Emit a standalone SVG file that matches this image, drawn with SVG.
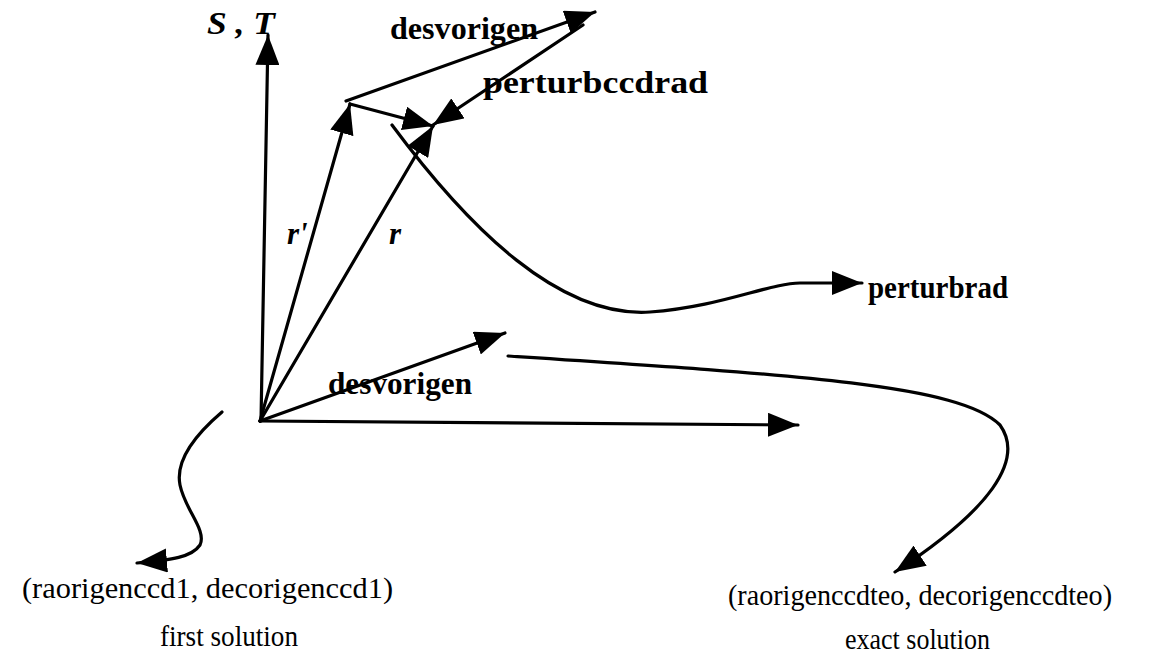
<svg xmlns="http://www.w3.org/2000/svg" width="1167" height="659" viewBox="0 0 1167 659">
  <style>
    .ln { fill: none; stroke: #000; stroke-width: 3.2; stroke-linecap: round; }
    .arr { marker-end: url(#head); }
    .lbl { font-family: "Liberation Serif", serif; font-weight: bold; font-size: 31px; fill: #000; }
    .sym { font-family: "Liberation Serif", serif; font-weight: bold; font-style: italic; font-size: 31px; fill: #000; }
    .note { font-family: "Liberation Serif", serif; font-size: 29px; fill: #000; }
  </style>
  <defs>
    <marker id="head" markerUnits="userSpaceOnUse" markerWidth="32" markerHeight="24" refX="30" refY="12" orient="auto">
      <path d="M0,0 L30,12 L0,24 z" fill="#000"/>
    </marker>
  </defs>
  <rect width="1167" height="659" fill="#fff"/>

  <!-- vectors and connectors -->
  <g id="connectors">
    <path class="ln arr" d="M261,421 L268,35"/>
    <path class="ln arr" d="M260,421 L798,425"/>
    <path class="ln arr" d="M260,421 L350,104"/>
    <path class="ln arr" d="M260,421 L433,126"/>
    <path class="ln arr" d="M260,421 L505,333"/>
    <path class="ln arr" d="M350,104 L433,126"/>
    <path class="ln arr" d="M346,101 L595,12"/>
    <path class="ln arr" d="M583,25 L433,125"/>
    <path class="ln arr" d="M392,125 C470,230 560,318 650,312 C720,307 770,283 800,283 L862,283"/>
    <path class="ln arr" d="M508,356 C800,375 960,385 1000,425 C1025,460 990,510 895,572"/>
    <path class="ln arr" d="M222,412 C195,435 175,460 180,485 C185,510 207,530 200,545 C192,557 172,560 137,563"/>
  </g>

  <g id="axis-label"><text class="sym" x="207" y="34" textLength="68" lengthAdjust="spacingAndGlyphs">S , T</text></g>
  <g id="desvorigen-top"><text class="lbl" x="390" y="39" textLength="148" lengthAdjust="spacingAndGlyphs">desvorigen</text></g>
  <g id="perturbccdrad"><text class="lbl" x="483" y="93" textLength="225" lengthAdjust="spacingAndGlyphs">perturbccdrad</text></g>
  <g id="r-prime"><text class="sym" x="287" y="244">r'</text></g>
  <g id="r"><text class="sym" x="389" y="244">r</text></g>
  <g id="perturbrad"><text class="lbl" x="868" y="298" textLength="140" lengthAdjust="spacingAndGlyphs">perturbrad</text></g>
  <g id="desvorigen-bottom"><text class="lbl" x="328" y="394" textLength="144" lengthAdjust="spacingAndGlyphs">desvorigen</text></g>
  <g id="first-solution">
    <text class="note" x="22" y="598" textLength="371" lengthAdjust="spacingAndGlyphs">(raorigenccd1, decorigenccd1)</text>
    <text class="note" x="160" y="646" textLength="138" lengthAdjust="spacingAndGlyphs">first solution</text>
  </g>
  <g id="exact-solution">
    <text class="note" x="728" y="605" textLength="384" lengthAdjust="spacingAndGlyphs">(raorigenccdteo, decorigenccdteo)</text>
    <text class="note" x="845" y="649" textLength="145" lengthAdjust="spacingAndGlyphs">exact solution</text>
  </g>
</svg>
